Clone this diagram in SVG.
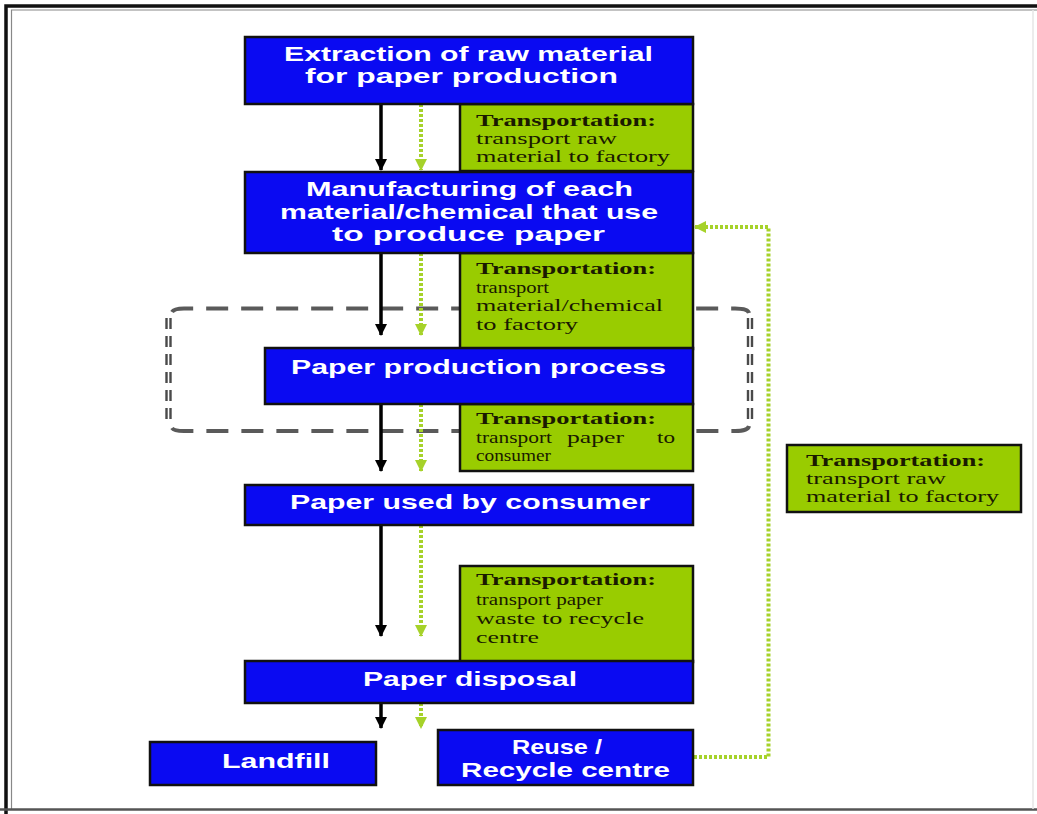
<svg xmlns="http://www.w3.org/2000/svg" width="1037" height="814" viewBox="0 0 1037 814">
<style>
.blue{fill:#0a0af2;stroke:#111;stroke-width:2.5}
.green{fill:#99cc00;stroke:#111;stroke-width:2.5}
.bt{font-family:"Liberation Sans",Arial,sans-serif;font-weight:bold;font-size:21px;fill:#fff}
.gt{font-family:"Liberation Serif","Times New Roman",serif;font-size:17px;fill:#1a1a00}
.gb{font-weight:bold}
.blk{stroke:#000;stroke-width:3.5;fill:none}
.grn{stroke:#a6d22a;stroke-width:4;stroke-dasharray:3 2;fill:none}
.bh{fill:none;stroke:#5a5a5a;stroke-width:4;stroke-dasharray:22 13}
.bv{fill:none;stroke:#4a4a4a;stroke-width:2.4;stroke-dasharray:11 7}
</style>
<defs>
<marker id="ab" markerUnits="userSpaceOnUse" markerWidth="14" markerHeight="12" refX="11" refY="6" orient="auto"><path d="M0,0 L12,6 L0,12 z" fill="#000"/></marker>
<marker id="ag" markerUnits="userSpaceOnUse" markerWidth="14" markerHeight="12" refX="11" refY="6" orient="auto"><path d="M0,0 L12,6 L0,12 z" fill="#a6d22a"/></marker>
</defs>
<rect width="1037" height="814" fill="#fff"/>
<g id="frame">
<path d="M6,814 V6 H1037" fill="none" stroke="#111" stroke-width="3.5"/>
<path d="M11.5,810 V10 H1037" fill="none" stroke="#888" stroke-width="1.2"/>
<path d="M0,809.5 H1037" stroke="#555" stroke-width="2.5"/>
<path d="M1033,10 V809" stroke="#e6e6e6" stroke-width="1.5"/>
</g>
<g id="boundary">
<path class="bh" d="M172,312 Q174,308.5 184,308.5 H735 Q748,308.5 749,313"/>
<path class="bh" d="M172,428 Q174,431 184,431 H735 Q748,431 749,426"/>
<path class="bv" d="M166.5,318 V421 M170.5,318 V421 M748,318 V421 M752,318 V421"/>
</g>
<g id="connectors">
<path class="blk" d="M381,104 V170" marker-end="url(#ab)"/>
<path class="grn" d="M421,104 V170" marker-end="url(#ag)"/>
<path class="blk" d="M381,253 V335" marker-end="url(#ab)"/>
<path class="grn" d="M421,253 V335" marker-end="url(#ag)"/>
<path class="blk" d="M381,404 V471" marker-end="url(#ab)"/>
<path class="grn" d="M421,404 V471" marker-end="url(#ag)"/>
<path class="blk" d="M381,525 V636" marker-end="url(#ab)"/>
<path class="grn" d="M421,525 V636" marker-end="url(#ag)"/>
<path class="blk" d="M381,703 V728" marker-end="url(#ab)"/>
<path class="grn" d="M421,703 V728" marker-end="url(#ag)"/>
<path class="grn" d="M694,757 H768.5 V227 H695" marker-end="url(#ag)"/>
</g>
<g id="t1">
<rect class="green" x="460" y="104" width="233" height="67"/>
<text class="gt" x="476" y="126"><tspan class="gb" textLength="180" lengthAdjust="spacingAndGlyphs">Transportation:</tspan></text>
<text class="gt" x="476" y="144" textLength="141" lengthAdjust="spacingAndGlyphs">transport raw</text>
<text class="gt" x="476" y="162" textLength="194" lengthAdjust="spacingAndGlyphs">material to factory</text>
</g>
<g id="t2">
<rect class="green" x="460" y="253" width="233" height="96"/>
<text class="gt" x="476" y="274"><tspan class="gb" textLength="180" lengthAdjust="spacingAndGlyphs">Transportation:</tspan></text>
<text class="gt" x="476" y="293" textLength="73" lengthAdjust="spacingAndGlyphs">transport</text>
<text class="gt" x="476" y="311" textLength="187" lengthAdjust="spacingAndGlyphs">material/chemical</text>
<text class="gt" x="476" y="330" textLength="102" lengthAdjust="spacingAndGlyphs">to factory</text>
</g>
<g id="t3">
<rect class="green" x="460" y="404" width="233" height="67"/>
<text class="gt" x="476" y="424"><tspan class="gb" textLength="180" lengthAdjust="spacingAndGlyphs">Transportation:</tspan></text>
<text class="gt" y="443"><tspan x="476" textLength="76" lengthAdjust="spacingAndGlyphs">transport</tspan><tspan x="567" textLength="57" lengthAdjust="spacingAndGlyphs">paper</tspan><tspan x="657" textLength="18" lengthAdjust="spacingAndGlyphs">to</tspan></text>
<text class="gt" x="476" y="461" textLength="75" lengthAdjust="spacingAndGlyphs">consumer</text>
</g>
<g id="t4">
<rect class="green" x="460" y="566" width="233" height="96"/>
<text class="gt" x="476" y="585"><tspan class="gb" textLength="180" lengthAdjust="spacingAndGlyphs">Transportation:</tspan></text>
<text class="gt" x="476" y="605" textLength="127" lengthAdjust="spacingAndGlyphs">transport paper</text>
<text class="gt" x="476" y="624" textLength="168" lengthAdjust="spacingAndGlyphs">waste to recycle</text>
<text class="gt" x="476" y="643" textLength="63" lengthAdjust="spacingAndGlyphs">centre</text>
</g>
<g id="t5">
<rect class="green" x="787" y="445" width="234" height="67"/>
<text class="gt" x="806" y="466"><tspan class="gb" textLength="179" lengthAdjust="spacingAndGlyphs">Transportation:</tspan></text>
<text class="gt" x="806" y="484" textLength="140" lengthAdjust="spacingAndGlyphs">transport raw</text>
<text class="gt" x="806" y="502" textLength="193" lengthAdjust="spacingAndGlyphs">material to factory</text>
</g>
<g id="extraction">
<rect class="blue" x="245" y="37" width="448" height="67"/>
<text class="bt" x="284" y="61" font-size="22" textLength="369" lengthAdjust="spacingAndGlyphs">Extraction of raw material</text>
<text class="bt" x="305" y="83" font-size="22" textLength="313" lengthAdjust="spacingAndGlyphs">for paper production</text>
</g>
<g id="manufacturing">
<rect class="blue" x="245" y="172" width="448" height="81"/>
<text class="bt" x="306" y="196" textLength="327" lengthAdjust="spacingAndGlyphs">Manufacturing of  each</text>
<text class="bt" x="280" y="219" textLength="378" lengthAdjust="spacingAndGlyphs">material/chemical that use</text>
<text class="bt" x="332" y="241" textLength="273" lengthAdjust="spacingAndGlyphs">to produce paper</text>
</g>
<g id="production">
<rect class="blue" x="265" y="348" width="428" height="56"/>
<text class="bt" x="291" y="374" textLength="375" lengthAdjust="spacingAndGlyphs">Paper production process</text>
</g>
<g id="consumer">
<rect class="blue" x="245" y="485" width="448" height="40"/>
<text class="bt" x="290" y="509" textLength="360" lengthAdjust="spacingAndGlyphs">Paper used by consumer</text>
</g>
<g id="disposal">
<rect class="blue" x="245" y="661" width="448" height="42"/>
<text class="bt" x="363" y="686" textLength="214" lengthAdjust="spacingAndGlyphs">Paper disposal</text>
</g>
<g id="landfill">
<rect class="blue" x="150" y="742" width="226" height="43"/>
<text class="bt" x="222" y="768" textLength="108" lengthAdjust="spacingAndGlyphs">Landfill</text>
</g>
<g id="recycle">
<rect class="blue" x="438" y="730" width="255" height="55"/>
<text class="bt" x="512" y="754" textLength="90" lengthAdjust="spacingAndGlyphs">Reuse /</text>
<text class="bt" x="461" y="777" textLength="209" lengthAdjust="spacingAndGlyphs">Recycle centre</text>
</g>
</svg>
